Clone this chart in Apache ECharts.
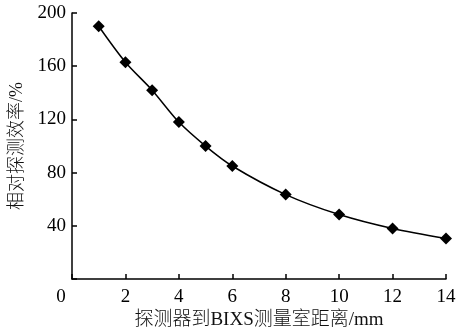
<!DOCTYPE html>
<html>
<head>
<meta charset="utf-8">
<script src="https://cdn.jsdelivr.net/npm/echarts@6/dist/echarts.min.js"></script>
<style>html,body{margin:0;padding:0;background:#fff}#c{width:468px;height:335px}</style>
</head>
<body>
<div id="c"></div>
<script>
var distances = [1, 2, 3, 4, 5, 6, 8, 10, 12, 14];
var efficiency = [190, 163, 142, 118, 100, 85, 63.5, 48.5, 38, 30.5];
var xTicks = [0, 2, 4, 6, 8, 10, 12, 14];
var yTicks = [0, 40, 80, 120, 160, 200];
var xName = '探测器到BIXS测量室距离/mm';
var yName = '相对探测效率/%';

var serif = '"Liberation Serif", "Times New Roman", serif';
var cjk = '"Liberation Serif", "Noto Sans CJK SC", serif';
var chart = echarts.init(document.getElementById('c'));
chart.setOption({
  animation: false,
  backgroundColor: '#fff',
  grid: {left: 72, right: 22, top: 13, bottom: 53},
  xAxis: {
    type: 'value', min: 0, max: 14, interval: 2,
    name: xName, nameLocation: 'middle', nameGap: 30,
    nameTextStyle: {fontFamily: cjk, fontSize: 19, fontWeight: 300, color: '#111'},
    axisLine: {show: true, lineStyle: {color: '#000', width: 1.5}},
    axisTick: {show: true, inside: true, length: 5, lineStyle: {color: '#000', width: 1.5}},
    splitLine: {show: false},
    axisLabel: {
      fontFamily: serif, fontSize: 19, color: '#000', margin: 8,
      formatter: function (v) { return v === 0 ? '{z|0}' : String(v); },
      rich: {z: {fontFamily: serif, fontSize: 19, color: '#000', padding: [0, 22, 0, 0]}}
    }
  },
  yAxis: {
    type: 'value', min: 0, max: 200, interval: 40,
    name: yName, nameLocation: 'middle', nameGap: 42,
    nameTextStyle: {fontFamily: cjk, fontSize: 18, fontWeight: 300, color: '#111'},
    axisLine: {show: true, lineStyle: {color: '#000', width: 1.5}},
    axisTick: {show: true, inside: true, length: 5, lineStyle: {color: '#000', width: 1.5}},
    splitLine: {show: false},
    axisLabel: {
      fontFamily: serif, fontSize: 19, color: '#000', margin: 6,
      formatter: function (v) { return v === 0 ? '' : String(v); }
    }
  },
  series: [{
    type: 'line', smooth: 0.3,
    data: distances.map(function (d, i) { return [d, efficiency[i]]; }),
    symbol: 'diamond', symbolSize: 12,
    lineStyle: {color: '#000', width: 1.5},
    itemStyle: {color: '#000'}
  }]
});
</script>
</body>
</html>
